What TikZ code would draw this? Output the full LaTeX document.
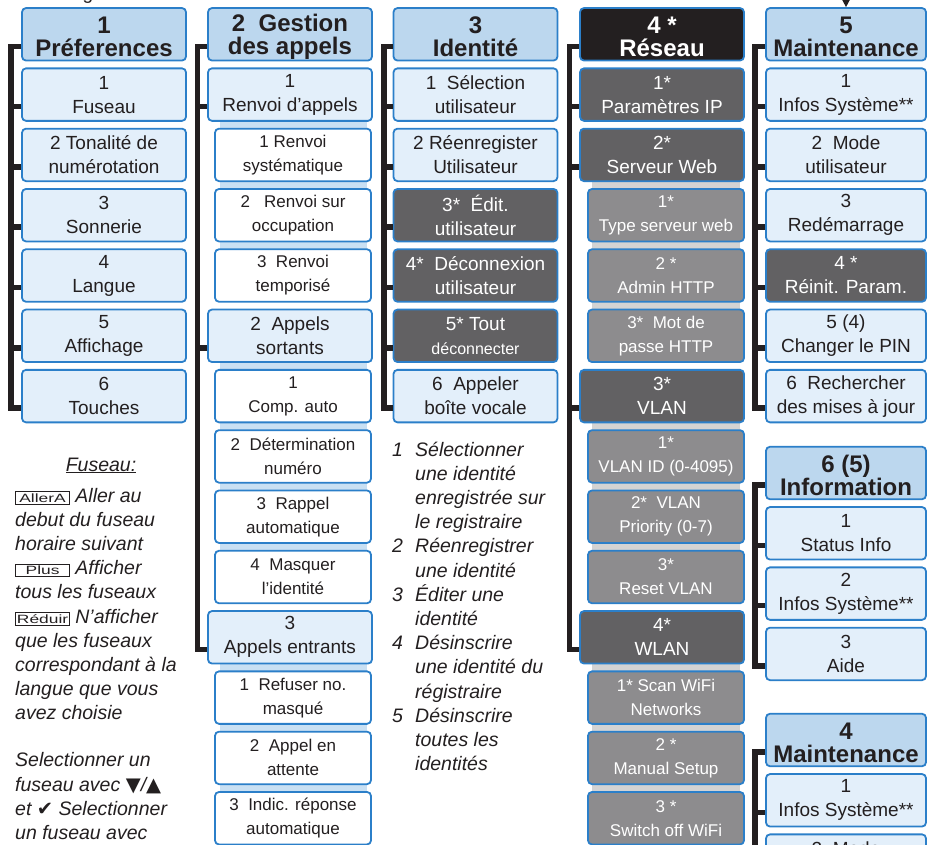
\documentclass[tikz,border=0pt]{standalone}
\usepackage{fontspec}
\setmainfont{Liberation Sans}
\newfontfamily\symfont{DejaVu Sans}
\usetikzlibrary{arrows.meta}

\definecolor{ink}{HTML}{231F20}
\definecolor{boxblue}{HTML}{2B7FC9}
\definecolor{headfill}{HTML}{BCD7EE}
\definecolor{itemfill}{HTML}{E3EFFA}
\definecolor{darkfill}{HTML}{626163}
\definecolor{midfill}{HTML}{8D8C8E}
\definecolor{stripblue}{HTML}{C9E0F3}
\definecolor{stripgray}{HTML}{D3D3D3}

\newcommand\keybox[1]{{\upshape\fontsize{12}{12}\selectfont\setlength\fboxsep{1.6pt}\setlength\fboxrule{0.8pt}\fbox{\makebox[50pt]{\scalebox{1.45}[1]{#1}}}}}
\newcommand\numlbl[1]{\makebox[23pt][l]{#1}}
\newcommand\hang{\hspace*{23pt}}
\newcommand\hs{\rule{0pt}{22.5pt}}

\begin{document}
\begin{tikzpicture}[x=1pt,y=-1pt,
  menubox/.style={draw=boxblue, line width=1.8pt, rounded corners=4pt, minimum width=164pt,
    minimum height=52.5pt, inner sep=0pt, align=center, text=ink, font=\fontsize{19}{24}\selectfont},
  headbox/.style={menubox, fill=headfill, font=\bfseries\fontsize{24}{23}\selectfont},
  itembox/.style={menubox, fill=itemfill},
  subbox/.style={menubox, minimum width=156pt, fill=white, font=\fontsize{17}{24}\selectfont},
  darkbox/.style={menubox, fill=darkfill, text=white},
  greybox/.style={subbox, fill=midfill, text=white},
  blackbox/.style={headbox, fill=ink, text=white},
  narrow/.style={minimum width=160pt},
  bracket/.style={draw=ink, line width=5.5pt},
  note/.style={font=\itshape\fontsize{19.5}{24.2}\selectfont, align=left, inner sep=0pt,
    anchor=north west, text=ink}]
\useasboundingbox (0,0) rectangle (928,844);
\clip (0,0) rectangle (928,844);

% strips behind the sub menus
\fill[stripblue] (220,94.6) rectangle (367,301.8);
\fill[stripblue] (220,335.8) rectangle (367,603.3);
\fill[stripblue] (220,637.3) rectangle (367,850);
\fill[stripgray] (592,154.9) rectangle (740,362);
\fill[stripgray] (592,396.1) rectangle (740,603.3);
\fill[stripgray] (592,637.3) rectangle (740,850);

\node[font=\fontsize{19}{24}\selectfont, text=ink, anchor=base] (topg) at (88,-1) {g};

% 1 Preferences
\node[headbox] (p0) at (104,34.3) {\hs 1\\Préferences};
\node[itembox] (p1) at (104,94.6) {1\\Fuseau};
\node[itembox] (p2) at (104,154.9) {2 Tonalité de\\numérotation};
\node[itembox] (p3) at (104,215.2) {3\\Sonnerie};
\node[itembox] (p4) at (104,275.5) {4\\Langue};
\node[itembox] (p5) at (104,335.8) {5\\Affichage};
\node[itembox] (p6) at (104,396.1) {6\\Touches};
\draw[bracket] ([yshift=-12pt]p0.west) -- ++(-10,0) |- ([yshift=-12pt]p6.west);
\foreach \n in {p1,p2,p3,p4,p5}
  \draw[bracket] ([yshift=-12pt]\n.west) -- ++(-10,0);

% 2 Gestion des appels
\node[headbox] (g0) at (290,34.3) {\hs 2\ \ Gestion\\des appels};
\node[itembox] (g1) at (290,94.6) {1\\Renvoi d'appels};
\node[subbox] (g2) at (293,154.9) {1 Renvoi\\systématique};
\node[subbox] (g3) at (293,215.2) {2\ \ \ Renvoi sur\\occupation};
\node[subbox] (g4) at (293,275.5) {3\ \ Renvoi\\temporisé};
\node[itembox] (g5) at (290,335.8) {2\ \ Appels\\sortants};
\node[subbox] (g6) at (293,396.1) {1\\Comp. auto};
\node[subbox] (g7) at (293,456.4) {2\ \ Détermination\\numéro};
\node[subbox] (g8) at (293,516.7) {3\ \ Rappel\\automatique};
\node[subbox] (g9) at (293,577.0) {4\ \ Masquer\\l'identité};
\node[itembox] (g10) at (290,637.3) {3\\Appels entrants};
\node[subbox] (g11) at (293,697.6) {1\ \ Refuser no.\\masqué};
\node[subbox] (g12) at (293,757.9) {2\ \ Appel en\\attente};
\node[subbox] (g13) at (293,818.2) {3\ \ Indic. réponse\\automatique};
\draw[bracket] ([yshift=-12pt]g0.west) -- ++(-9.5,0) |- ([yshift=-12pt]g10.west);
\foreach \n in {g1,g5}
  \draw[bracket] ([yshift=-12pt]\n.west) -- ++(-9.5,0);

% 3 Identite
\node[headbox] (i0) at (475.5,34.3) {\hs 3\\Identité};
\node[itembox] (i1) at (475.5,94.6) {1\ \ Sélection\\utilisateur};
\node[itembox] (i2) at (475.5,154.9) {2 Réenregister\\Utilisateur};
\node[darkbox] (i3) at (475.5,215.2) {3*\ \ Édit.\\utilisateur};
\node[darkbox] (i4) at (475.5,275.5) {4*\ \ Déconnexion\\utilisateur};
\node[darkbox] (i5) at (475.5,335.8) {5* Tout\\{\fontsize{16}{24}\selectfont déconnecter}};
\node[itembox] (i6) at (475.5,396.1) {6\ \ Appeler\\boîte vocale};
\draw[bracket] ([yshift=-12pt]i0.west) -- ++(-8.5,0) |- ([yshift=-12pt]i6.west);
\foreach \n in {i1,i2,i3,i4,i5}
  \draw[bracket] ([yshift=-12pt]\n.west) -- ++(-8.5,0);

% 4 Reseau
\node[blackbox] (r0) at (662,34.3) {\hs 4 *\\Réseau};
\node[darkbox] (r1) at (662,94.6) {1*\\Paramètres IP};
\node[darkbox] (r2) at (662,154.9) {2*\\Serveur Web};
\node[greybox] (r3) at (666,215.2) {1*\\Type serveur web};
\node[greybox] (r4) at (666,275.5) {2 *\\Admin HTTP};
\node[greybox] (r5) at (666,335.8) {3*\ \ Mot de\\passe HTTP};
\node[darkbox] (r6) at (662,396.1) {3*\\VLAN};
\node[greybox] (r7) at (666,456.4) {1*\\VLAN ID (0-4095)};
\node[greybox] (r8) at (666,516.7) {2*\ \ VLAN\\Priority (0-7)};
\node[greybox] (r9) at (666,577.0) {3*\\Reset VLAN};
\node[darkbox] (r10) at (662,637.3) {4*\\WLAN};
\node[greybox] (r11) at (666,697.6) {1* Scan WiFi\\Networks};
\node[greybox] (r12) at (666,757.9) {2 *\\Manual Setup};
\node[greybox] (r13) at (666,818.2) {3 *\\Switch off WiFi};
\draw[bracket] ([yshift=-12pt]r0.west) -- ++(-9.5,0) |- ([yshift=-12pt]r10.west);
\foreach \n in {r1,r2,r6}
  \draw[bracket] ([yshift=-12pt]\n.west) -- ++(-9.5,0);

% 5 Maintenance
\coordinate (arrtop) at (846,-20);
\node[headbox, narrow] (m0) at (846,34.3) {\hs 5\\Maintenance};
\node[itembox, narrow] (m1) at (846,94.6) {1\\Infos Système**};
\node[itembox, narrow] (m2) at (846,154.9) {2\ \ Mode\\utilisateur};
\node[itembox, narrow] (m3) at (846,215.2) {3\\Redémarrage};
\node[darkbox, narrow] (m4) at (846,275.5) {4 *\\Réinit. Param.};
\node[itembox, narrow] (m5) at (846,335.8) {5 (4)\\Changer le PIN};
\node[itembox, narrow] (m6) at (846,396.1) {6\ \ Rechercher\\des mises à jour};
\draw[-{Triangle[width=8pt,length=8pt]}, line width=1.5pt, ink] (arrtop) -- (m0.north);
\draw[bracket] ([yshift=-12pt]m0.west) -- ++(-10,0) |- ([yshift=-12pt]m6.west);
\foreach \n in {m1,m2,m3,m4,m5}
  \draw[bracket] ([yshift=-12pt]\n.west) -- ++(-10,0);

% 6 (5) Information
\node[headbox, narrow] (f0) at (846,473) {\hs 6 (5)\\Information};
\node[itembox, narrow] (f1) at (846,533.3) {1\\Status Info};
\node[itembox, narrow] (f2) at (846,593.6) {2\\Infos Système**};
\node[itembox, narrow] (f3) at (846,653.9) {3\\Aide};
\draw[bracket] ([yshift=-12pt]f0.west) -- ++(-10,0) |- ([yshift=-12pt]f3.west);
\foreach \n in {f1,f2}
  \draw[bracket] ([yshift=-12pt]\n.west) -- ++(-10,0);

% 4 Maintenance
\node[headbox, narrow] (n0) at (846,740) {\hs 4\\Maintenance};
\node[itembox, narrow] (n1) at (846,800.3) {1\\Infos Système**};
\node[itembox, narrow] (n2) at (846,860.6) {2\ \ Mode\\utilisateur};
\draw[bracket] ([yshift=-12pt]n0.west) -- ++(-10,0) |- ([yshift=-12pt]n2.west);
\draw[bracket] ([yshift=-12pt]n1.west) -- ++(-10,0);

% notes
\node[note, anchor=base] (fustitle) at (101,471) {\underline{Fuseau:}};
\node[note] (fusnote) at (15,487.8) {\keybox{AllerA} Aller au\\
  debut du fuseau\\ horaire suivant\\
  \keybox{Plus} Afficher\\ tous les fuseaux\\
  \keybox{Réduir} N'afficher\\ que les fuseaux\\ correspondant à la\\
  langue que vous\\ avez choisie\\[22.8pt]
  Selectionner un\\ fuseau avec {\upshape\symfont ▼}/{\upshape\symfont ▲}\\
  et {\upshape\symfont ✔} Selectionner\\ un fuseau avec};
\node[note] (idnote) at (392,441.5) {\numlbl{1}Sélectionner\\ \hang une identité\\
  \hang enregistrée sur\\ \hang le registraire\\
  \numlbl{2}Réenregistrer\\ \hang une identité\\
  \numlbl{3}Éditer une\\ \hang identité\\
  \numlbl{4}Désinscrire\\ \hang une identité du\\ \hang régistraire\\
  \numlbl{5}Désinscrire\\ \hang toutes les\\ \hang identités};
\end{tikzpicture}
\end{document}
